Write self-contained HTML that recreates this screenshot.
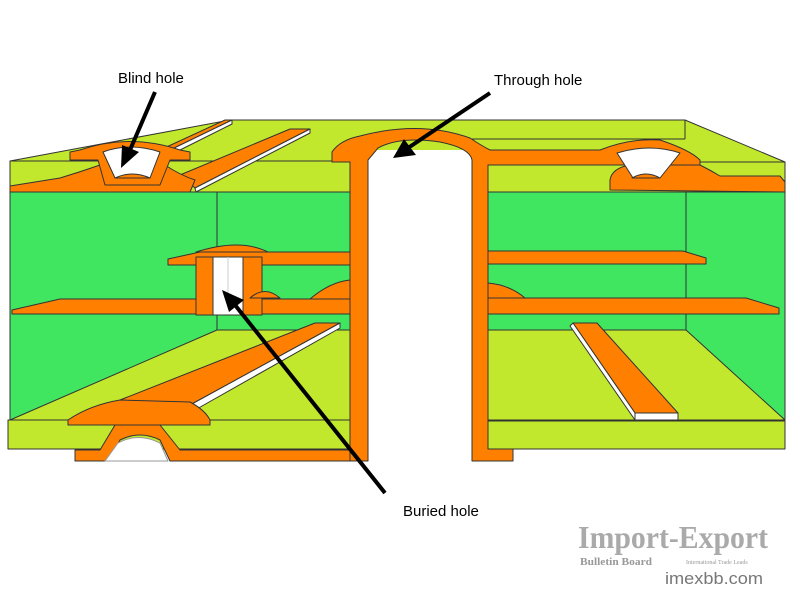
<!DOCTYPE html>
<html><head><meta charset="utf-8"><style>html,body{margin:0;padding:0;background:#fff;}svg{display:block}</style></head>
<body>
<svg width="800" height="600" viewBox="0 0 800 600" xmlns="http://www.w3.org/2000/svg">
<g stroke="#333" stroke-width="1" stroke-linejoin="round">
<polygon points="10,161 230,120 685,120 785,162 785,192 10,192" fill="#C2E82D"/>
<line x1="400" y1="139" x2="685" y2="139" />
<line x1="685" y1="120" x2="685" y2="139"/>
<line x1="10" y1="161" x2="350" y2="161"/>
<line x1="488" y1="162" x2="785" y2="162"/>
<rect x="10" y="192" width="340" height="228" fill="#40E660"/>
<polygon points="217,330 350,330 350,420 10,420" fill="#C2E82D"/>
<line x1="217" y1="192" x2="217" y2="330"/>
<rect x="8" y="420" width="342" height="29" fill="#C2E82D"/>
<rect x="488" y="192" width="297" height="228" fill="#40E660"/>
<polygon points="488,330 686,330 785,420 488,420" fill="#C2E82D"/>
<line x1="686" y1="192" x2="686" y2="330"/>
<rect x="488" y="421" width="297" height="28" fill="#C2E82D"/>

<polygon points="168,259 200,252 350,252 350,265 168,265" fill="#FF8000"/>
<polygon points="12,310 60,299 350,299 350,314 12,314" fill="#FF8000"/>
<polygon points="488,251 683,251 706,258 706,264 488,264" fill="#FF8000"/>
<polygon points="488,298 746,298 779,308 779,314 488,314" fill="#FF8000"/>
<path d="M488,283 Q510,285 525,298 L488,298 Z" fill="#FF8000"/>
<path d="M310,299 Q330,282 350,280 L350,299 Z" fill="#FF8000"/>
<path d="M196,252 Q240,238 268,252 Z" fill="#FF8000"/>
<rect x="196" y="257" width="66" height="58" fill="#FF8000"/>
<rect x="213" y="257" width="30" height="58" fill="#fff"/>
<line x1="228" y1="257" x2="228" y2="298" stroke="#ccc"/>
<path d="M250,298 Q265,285 280,298 Z" fill="#FF8000"/>

<polygon points="120,400 315,323 340,323 190,405" fill="#FF8000"/>
<polygon points="190,405 340,323 340,328 195,410" fill="#fff"/>
<path d="M68,420 Q90,405 120,400 L190,402 Q205,410 210,420 L210,425 L68,425 Z" fill="#FF8000"/>
<polygon points="573,323 597,323 678,413 635,413" fill="#FF8000"/>
<polygon points="573,323 635,413 635,420 570,326" fill="#fff"/>
<rect x="635" y="413" width="43" height="7" fill="#fff"/>
<path d="M75,450 L100,450 L115,425 L160,425 L180,450 L360,450 L360,461 L170,461 L160,440 Q140,430 120,440 L110,461 L75,461 Z" fill="#FF8000"/>
<path d="M105,461 L118,443 Q138,432 160,443 L168,461 Z" fill="#fff" stroke="#999"/>

<rect x="368" y="150" width="104" height="310" fill="#fff" stroke="none"/>
<path d="M332,152 Q340,140 360,136 Q420,120 470,138 Q482,146 490,150 L600,150 Q630,138 660,140 Q690,150 700,160 L700,165 L488,165 L488,449 L513,449 L513,461 L472,461 L472,160 Q470,148 440,142 Q400,136 378,148 L368,160 L368,461 L350,461 L350,162 L332,162 Z" fill="#FF8000"/>
<path d="M610,190 L610,180 Q612,168 630,165 L700,165 Q710,170 720,176 L780,176 L785,182 L785,192 Z" fill="#FF8000"/>
<path d="M617,153 Q650,143 680,153 L660,178 L633,178 Z" fill="#fff"/>
<path d="M632,178 Q646,170 660,178 Z" fill="#FF8000"/>

<polygon points="160,150 225,120 232,120 170,150" fill="#FF8000"/>
<polygon points="170,150 232,120 232,124 176,152" fill="#fff"/>
<polygon points="180,175 290,129 310,129 195,188" fill="#FF8000"/>
<polygon points="195,188 310,129 310,133 196,192" fill="#fff"/>
<path d="M10,186 L60,178 Q80,172 100,165 L165,165 Q180,175 195,180 L190,192 L10,192 Z" fill="#FF8000"/>
<path d="M70,152 L80,150 Q130,133 180,150 L190,152 L190,160 L170,160 L160,185 L105,185 L98,160 L70,160 Z" fill="#FF8000"/>
<path d="M103,152 Q130,142 160,152 L150,178 L115,178 Z" fill="#fff"/>
<path d="M115,178 Q132,170 150,178 Z" fill="#FF8000"/>
</g>

<g stroke="#000" stroke-width="4" fill="#000">
<line x1="155" y1="92" x2="130" y2="150"/>
<polygon points="121,168 122,145 139,152" stroke="none"/>
<line x1="490" y1="93" x2="408" y2="148"/>
<polygon points="393,158 404,139 416,155" stroke="none"/>
<line x1="385" y1="493" x2="235" y2="305"/>
<polygon points="222,290 244,300 229,312" stroke="none"/>
</g>
<g font-family="Liberation Sans, sans-serif" font-size="15" fill="#000">
<text x="118" y="83">Blind hole</text>
<text x="494" y="85">Through hole</text>
<text x="403" y="516">Buried hole</text>
</g>
<g fill="#999" font-family="Liberation Serif, serif">
<text x="578" y="548" font-size="32" fill="#aaa" font-weight="bold" textLength="190" lengthAdjust="spacingAndGlyphs">Import-Export</text>
<text x="580" y="565" font-size="11" font-weight="bold" textLength="72" lengthAdjust="spacingAndGlyphs">Bulletin Board</text>
<text x="686" y="564" font-size="6">International Trade Leads</text>
<text x="665" y="584" font-size="17" fill="#777" font-family="Liberation Sans, sans-serif" textLength="98" lengthAdjust="spacingAndGlyphs">imexbb.com</text>
</g>
</svg>
</body></html>
